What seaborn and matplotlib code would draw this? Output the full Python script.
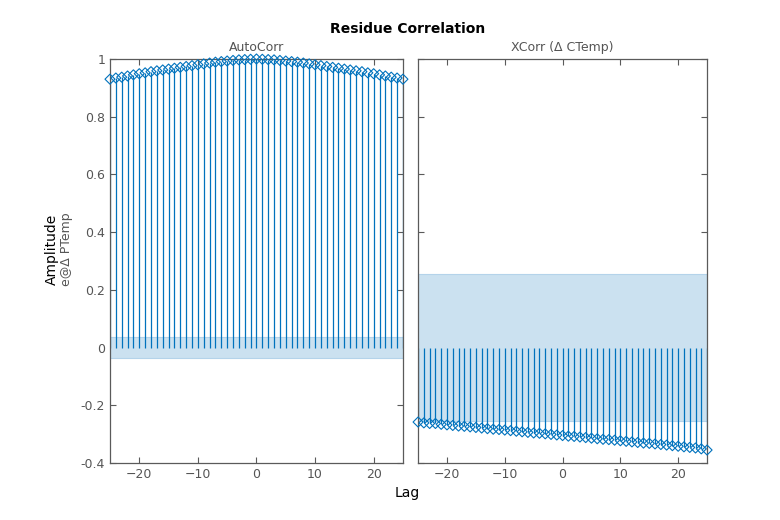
import matplotlib
matplotlib.use("Agg")
import matplotlib.pyplot as plt
import seaborn as sns
import numpy as np
import pandas as pd

lags = list(range(-25, 26))
auto_half = [1.000, 0.999, 0.998, 0.997, 0.995, 0.993, 0.991, 0.989, 0.986, 0.983,
             0.980, 0.977, 0.974, 0.971, 0.968, 0.965, 0.962, 0.959, 0.956, 0.952,
             0.949, 0.945, 0.941, 0.937, 0.934, 0.930]
autocorr = auto_half[:0:-1] + auto_half
xcorr = [-0.258, -0.261, -0.263, -0.263, -0.266, -0.268, -0.270, -0.272, -0.273, -0.275,
         -0.277, -0.279, -0.281, -0.283, -0.284, -0.286, -0.288, -0.290, -0.292, -0.294,
         -0.296, -0.297, -0.299, -0.301, -0.303, -0.305, -0.307, -0.308, -0.310, -0.312,
         -0.314, -0.316, -0.318, -0.319, -0.321, -0.323, -0.325, -0.327, -0.329, -0.331,
         -0.332, -0.334, -0.336, -0.338, -0.340, -0.342, -0.344, -0.346, -0.348, -0.351,
         -0.355]
auto_conf = 0.037
xcorr_conf = 0.254

xticks = [-20, -10, 0, 10, 20]
yticks = [-0.4, -0.2, 0, 0.2, 0.4, 0.6, 0.8, 1]
ytick_labels = ["-0.4", "-0.2", "0", "0.2", "0.4", "0.6", "0.8", "1"]

sns.set_theme(style="white")
plt.rcParams['font.family'] = ['DejaVu Sans']

stem_col = "#0072BD"
band_col = "#cbe1f0"
grey = "#555555"

fig = plt.figure(figsize=(7.8, 5.2), dpi=100)
ax1 = fig.add_axes([0.141, 0.1096, 0.3756, 0.777])
ax2 = fig.add_axes([0.536, 0.1096, 0.3705, 0.777])

panels = [(ax1, autocorr, auto_conf, "AutoCorr"),
          (ax2, xcorr, xcorr_conf, "XCorr (\u0394 CTemp)")]

for ax, vals, conf, ttl in panels:
    df = pd.DataFrame({"lag": lags, "val": vals})
    ax.axhspan(-conf, conf, color=band_col, ec="#b4d3ea", lw=0.8, zorder=1)
    ax.vlines(df["lag"], 0, df["val"], color=stem_col, lw=0.9, zorder=2)
    sns.scatterplot(data=df, x="lag", y="val", ax=ax, marker="D", s=26,
                    facecolor="none", edgecolor=stem_col, linewidth=0.8,
                    zorder=3, clip_on=False, legend=False)
    ax.set_xlim(-25, 25)
    ax.set_ylim(-0.4, 1)
    ax.set_xticks(xticks)
    ax.set_yticks(yticks)
    ax.set_xlabel("")
    ax.set_ylabel("")
    ax.set_title(ttl, fontsize=9, color=grey, pad=6)
    for sp in ax.spines.values():
        sp.set_color("#5a5a5a")
        sp.set_linewidth(0.9)
    ax.tick_params(direction="in", length=4, width=0.8, color="#5a5a5a",
                   labelcolor=grey, labelsize=9, top=True, right=True,
                   bottom=True, left=True)

ax1.set_yticklabels(ytick_labels)
ax2.set_yticklabels([])

fig.text(0.522, 0.945, "Residue Correlation", ha="center", va="center",
         fontsize=10, fontweight="bold", color="black")
fig.text(0.522, 0.052, "Lag", ha="center", va="center", fontsize=10, color="black")
fig.text(0.067, 0.52, "Amplitude", ha="center", va="center", rotation=90,
         fontsize=10, color="black")
fig.text(0.085, 0.52, "e@\u0394 PTemp", ha="center", va="center", rotation=90,
         fontsize=9, color=grey)

fig.savefig("out.png", dpi=100)
